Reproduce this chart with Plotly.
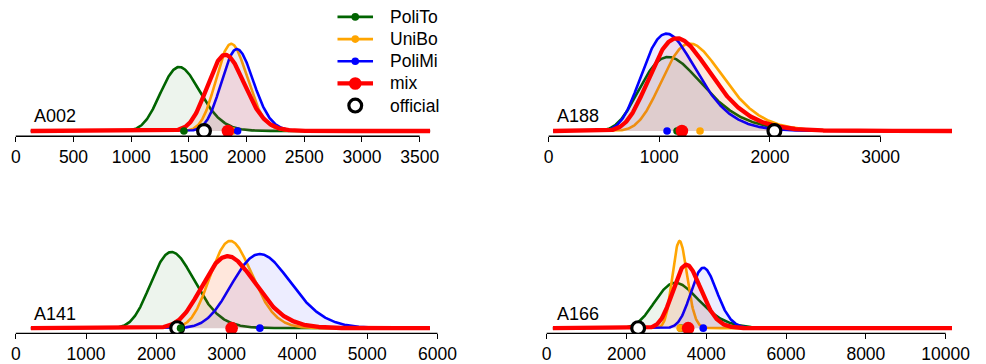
import numpy as np
import plotly.graph_objects as go

# Sources of the estimates, in drawing / legend order
sources = ["PoliTo", "UniBo", "PoliMi", "mix"]
colors = ["#006400", "#FFA500", "#0000FF", "#FF0000"]
fills = ["rgba(0,100,0,0.07)", "rgba(255,165,0,0.07)",
         "rgba(0,0,255,0.07)", "rgba(255,0,0,0.07)"]

panel_names = ["A002", "A188", "A141", "A166"]

# Most likely value (mode) of each lognormal estimate: PoliTo, UniBo, PoliMi, mix
mode_A002 = [1417, 1867, 1916, 1816]
mode_A188 = [1080, 1277, 1065, 1160]
mode_A141 = [2216, 3052, 3473, 3013]
mode_A166 = [3228, 3330, 3928, 3500]

# Log-space spread of each estimate
sigma_A002 = [0.12, 0.072, 0.072, 0.088]
sigma_A188 = [0.26, 0.214, 0.23, 0.235]
sigma_A141 = [0.14, 0.097, 0.12, 0.125]
sigma_A166 = [0.17, 0.055, 0.082, 0.10]

# Peak density (relative units)
peak_A002 = [0.644, 0.877, 0.824, 0.767]
peak_A188 = [0.745, 0.880, 0.980, 0.934]
peak_A141 = [0.765, 0.876, 0.745, 0.723]
peak_A166 = [0.455, 0.875, 0.607, 0.637]

# Point estimates shown as dots on the baseline
estimate_A002 = [1457, 1883, 1922, 1838]
estimate_A188 = [1160, 1368, 1070, 1204]
estimate_A141 = [2345, 3095, 3473, 3071]
estimate_A166 = [3360, 3346, 3924, 3545]

# Official values
official = [1631, 2040, 2296, 2292]

# Evaluation span of the density curves
grid_lo = [130, 40, 215, 156]
grid_hi = [3590, 3645, 5893, 10158]

# Tick values of each panel
ticks_A002 = [0, 500, 1000, 1500, 2000, 2500, 3000, 3500]
ticks_A188 = [0, 1000, 2000, 3000]
ticks_A141 = [0, 1000, 2000, 3000, 4000, 5000, 6000]
ticks_A166 = [0, 2000, 4000, 6000, 8000, 10000]

modes = [mode_A002, mode_A188, mode_A141, mode_A166]
sigmas = [sigma_A002, sigma_A188, sigma_A141, sigma_A166]
peaks = [peak_A002, peak_A188, peak_A141, peak_A166]
estimates = [estimate_A002, estimate_A188, estimate_A141, estimate_A166]
ticks = [ticks_A002, ticks_A188, ticks_A141, ticks_A166]

# Axis limits
xlims = [(-68.4, 3711.3), (-71.3, 3736.7), (-112.3, 6093.8), (-148.4, 10413.0)]
ylim = (-0.053, 1.268)

W, H = 986, 364
col_px = [(8, 450), (548, 975)]
row_px = [(5, 137), (203, 335.3)]
label_px = [(32, 117), (562, 117), (32, 316), (562, 316)]

FONT = "Arial, 'Liberation Sans', sans-serif"

LINE_W = {"mix": 4.3}
DOT_R = {"mix": 6.3}
SMALL_R = 3.8
RING_SIZE, RING_W = 12.8, 3.2


def lognormal_shape(x, mode, s):
    """Lognormal density scaled to 1 at its mode."""
    mu = np.log(mode) + s ** 2
    f = np.exp(-(np.log(x) - mu) ** 2 / (2 * s ** 2)) / x
    fm = np.exp(-(np.log(mode) - mu) ** 2 / (2 * s ** 2)) / mode
    return f / fm


fig = go.Figure()
layout = {}
shapes = []
annotations = []

for p in range(4):
    r, c = divmod(p, 2)
    ax = "" if p == 0 else str(p + 1)
    xref, yref = "x" + ax, "y" + ax
    x = np.linspace(grid_lo[p], grid_hi[p], 900)

    for i, src in enumerate(sources):
        y = peaks[p][i] * lognormal_shape(x, modes[p][i], sigmas[p][i])
        fig.add_trace(go.Scatter(
            x=x, y=y, mode="lines", fill="tozeroy", fillcolor=fills[i],
            line=dict(color=colors[i], width=LINE_W.get(src, 2.6)),
            xaxis=xref, yaxis=yref, showlegend=False, hoverinfo="skip"))

    fig.add_trace(go.Scatter(
        x=[official[p]], y=[0], mode="markers",
        marker=dict(symbol="circle", size=RING_SIZE, color="white",
                    line=dict(color="black", width=RING_W)),
        xaxis=xref, yaxis=yref, showlegend=False, hoverinfo="skip"))

    for i, src in enumerate(sources):
        fig.add_trace(go.Scatter(
            x=[estimates[p][i]], y=[0], mode="markers",
            marker=dict(size=2 * DOT_R.get(src, SMALL_R), color=colors[i]),
            xaxis=xref, yaxis=yref, showlegend=False, hoverinfo="skip"))

    x0, x1 = col_px[c]
    yt, yb = row_px[r]
    layout["xaxis" + ax] = dict(
        domain=[x0 / W, x1 / W], range=list(xlims[p]), anchor=yref,
        tickmode="array", tickvals=ticks[p], ticktext=[str(t) for t in ticks[p]],
        ticks="outside", ticklen=5, tickwidth=1.3, tickcolor="black",
        showline=False, showgrid=False, zeroline=False,
        tickfont=dict(family=FONT, size=17.5, color="black"))
    layout["yaxis" + ax] = dict(
        domain=[1 - yb / H, 1 - yt / H], range=list(ylim), anchor=xref,
        visible=False)

    # spine trimmed to the outer ticks
    shapes.append(dict(type="line", xref=xref, yref=yref + " domain",
                       x0=ticks[p][0], x1=ticks[p][-1], y0=0, y1=0,
                       line=dict(color="black", width=1.3)))

    lx, ly = label_px[p]
    annotations.append(dict(text=panel_names[p], x=lx / W, y=1 - ly / H,
                            xref="paper", yref="paper", xanchor="left",
                            yanchor="middle", showarrow=False,
                            font=dict(family=FONT, size=18, color="black")))

# Legend (top-left panel, upper right corner)
leg_line = (342, 378)
leg_sym_x = 360
leg_text_x = 393
leg_rows = [17, 39.3, 61.6, 83.9, 106.2]


def px_x(v):
    return v / W


def px_y(v):
    return 1 - v / H


for i, src in enumerate(sources):
    yy = px_y(leg_rows[i])
    shapes.append(dict(type="line", xref="paper", yref="paper",
                       x0=px_x(leg_line[0]), x1=px_x(leg_line[1]), y0=yy, y1=yy,
                       line=dict(color=colors[i], width=LINE_W.get(src, 2.6))))
    rad = DOT_R.get(src, SMALL_R)
    shapes.append(dict(type="circle", xref="paper", yref="paper",
                       xsizemode="pixel", ysizemode="pixel",
                       xanchor=px_x(leg_sym_x), yanchor=yy,
                       x0=-rad, x1=rad, y0=-rad, y1=rad,
                       fillcolor=colors[i], line=dict(width=0)))
legend_labels = sources + ["official"]
yy = px_y(leg_rows[4])
rr = RING_SIZE / 2
shapes.append(dict(type="circle", xref="paper", yref="paper",
                   xsizemode="pixel", ysizemode="pixel",
                   xanchor=px_x(leg_sym_x), yanchor=yy,
                   x0=-rr, x1=rr, y0=-rr, y1=rr,
                   fillcolor="white", line=dict(color="black", width=RING_W)))
for k, lab in enumerate(legend_labels):
    annotations.append(dict(text=lab, x=px_x(leg_text_x), y=px_y(leg_rows[k]),
                            xref="paper", yref="paper", xanchor="left",
                            yanchor="middle", showarrow=False,
                            font=dict(family=FONT, size=17.5, color="black")))

fig.update_layout(
    width=W, height=H, margin=dict(l=0, r=0, t=0, b=0),
    paper_bgcolor="white", plot_bgcolor="white",
    showlegend=False,
    shapes=shapes, annotations=annotations, **layout)

fig.write_html("out.html")
